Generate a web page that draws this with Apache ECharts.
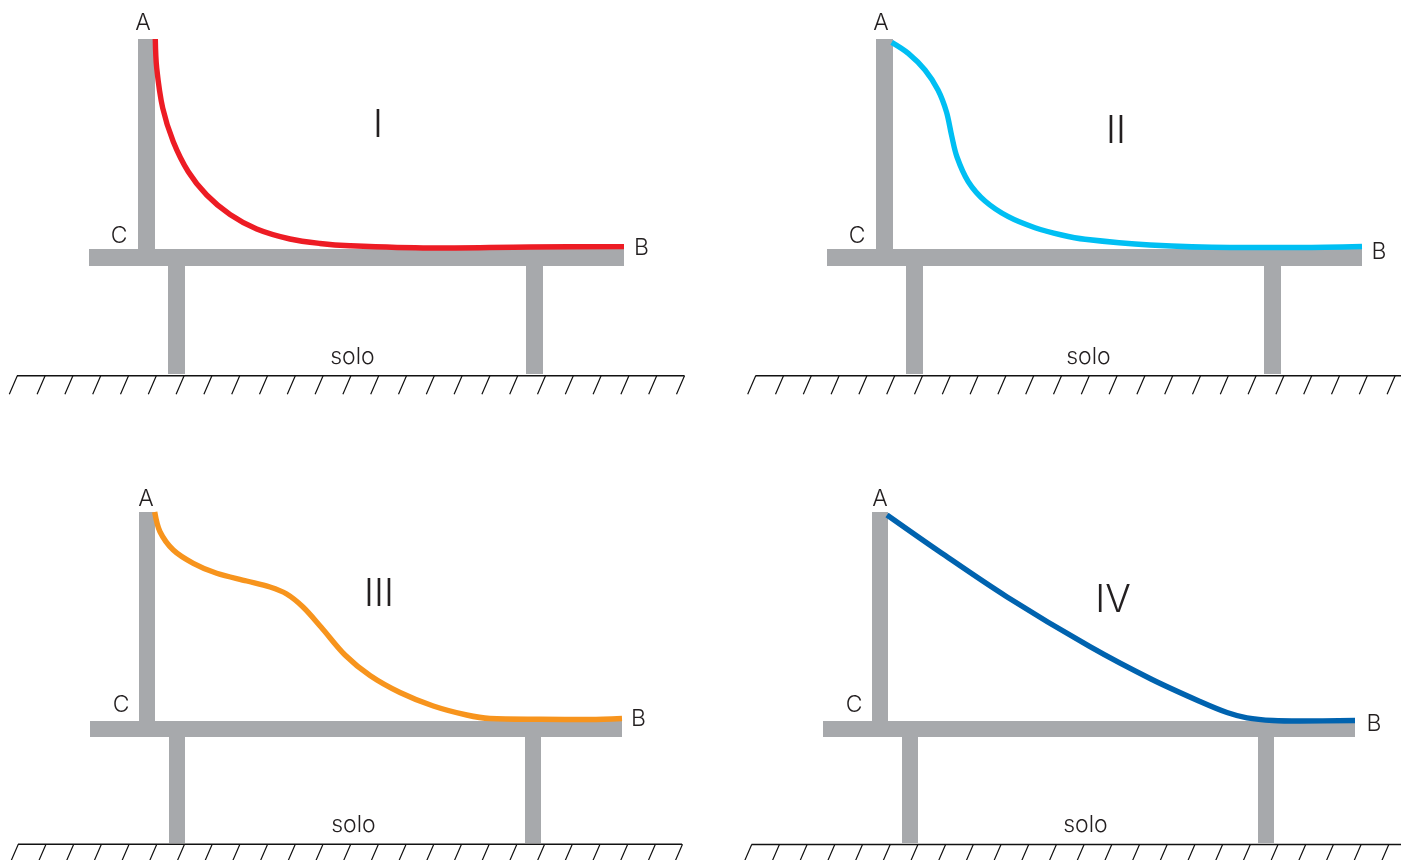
<!DOCTYPE html>
<html><head><meta charset="utf-8">
<style>html,body{margin:0;padding:0;background:#fff}#c{width:1401px;height:860px}</style>
<script src="https://cdn.jsdelivr.net/npm/echarts@6/dist/echarts.min.js"></script>
</head><body><div id="c"></div>
<script>
// curves (x / y in picture units, y downward)
const curveI = [[155.3,39],[156.7,68],[162.7,108],[173.3,141.7],[188.3,171.7],[206.7,195],[230,214.5],[256.7,229],[290,239],[320,243.5],[350,245.8],[430,248],[530,247],[624,246.6]];
const curveII = [[891.7,42.3],[908.3,53.3],[925,70],[938,90],[946.5,112],[951.5,135],[957,157],[968.3,181.7],[985,201],[1008.3,216.7],[1035,227.7],[1061.7,235],[1085,239.3],[1150,245],[1230,247.5],[1300,247.5],[1362,246.5]];
const curveIII = [[154.7,512],[160,531.7],[173.3,550],[193.3,563.3],[216.7,573.3],[246.7,581],[270,587],[286.7,594],[303,607],[321,627],[345,655],[370,675.5],[400,692.5],[433.3,706],[466.7,715],[490,718.5],[540,719.3],[590,719.5],[622,718.5]];
const curveIV = [[887,515],[940,552],[1006.7,596.7],[1090,646.7],[1151,679],[1200,701.5],[1227,712.5],[1247,717.8],[1273,720.5],[1300,721],[1355,720.5]];
// gray frames: post [x, yTop, yBottom], deck [xLeft, xRight, y], legs [x, x, yTop, yBottom]
const postsI = [146.5,39,249], deckI = [89,624,257.5], legsI = [176.5,534.5,266,374];
const postsII = [884.5,39,249], deckII = [827,1362,257.5], legsII = [914.5,1272.5,266,374];
const postsIII = [147,512,721], deckIII = [90,622,729], legsIII = [177,533,737,843];
const postsIV = [880,512,721], deckIV = [823,1355,729], legsIV = [910,1266,737,843];
// ground lines [xStart, xEnd, y] and the tops of their hatch ticks
const groundI = [17,684.5,375.7], groundII = [755.5,1401,375.7], groundIII = [18,682,844.2], groundIV = [751.5,1401,844.5];
const hatchI = [17.3,45.1,72.9,100.7,128.5,156.3,184.1,211.9,239.7,267.5,295.3,323.1,350.9,378.7,406.5,434.3,462.1,489.9,517.7,545.5,573.3,601.1,628.9,656.7,684.5];
const hatchII = [755.7,783.5,811.3,839.1,866.9,894.7,922.5,950.3,978.1,1005.9,1033.7,1061.5,1089.3,1117.1,1144.9,1172.7,1200.5,1228.3,1256.1,1283.9,1311.7,1339.5,1367.3,1395.1];
const hatchIII = [18.3,46,73.7,101.4,129.1,156.8,184.5,212.2,239.9,267.6,295.3,323,350.7,378.4,406.1,433.8,461.5,489.2,516.9,544.6,572.3,600,627.7,655.4,682.5];
const hatchIV = [751.7,779.4,807.1,834.8,862.5,890.2,917.9,945.6,973.3,1001,1028.7,1056.4,1084.1,1111.8,1139.5,1167.2,1194.9,1222.6,1250.3,1278,1305.7,1333.4,1361.1,1388.8];
// text labels: [x, y, text]
const labelsSmall = [
 [143,23,'A'],[119,236.5,'C'],[641.5,248,'B'],[352.5,357,'solo'],
 [881,23,'A'],[857,236.5,'C'],[1379,252,'B'],[1088.5,357,'solo'],
 [146,499,'A'],[121,705.5,'C'],[638.5,719,'B'],[353.5,825,'solo'],
 [880,499,'A'],[854,705.5,'C'],[1374,724,'B'],[1085.5,825,'solo']];
const labelsBig = [[378,126,'I'],[1116,132,'II'],[379,595,'III'],[1113,601,'IV']];

const GRAY='#a7a9ac', INK='#231f20';
const seg=(a,w,c,z,name)=>({type:'line',name,data:a,symbol:'none',showSymbol:false,silent:true,animation:false,z,
  lineStyle:{width:w,color:c,cap:'butt',join:'round'},connectNulls:false});
function frame(p,d,l,w,n){return [
  seg([[p[0],p[1]],[p[0],p[2]]],w,GRAY,1,n+' post'),
  seg([[d[0],d[2]],[d[1],d[2]]],w,GRAY,1,n+' deck'),
  seg([[l[0],l[2]],[l[0],l[3]]],w,GRAY,1,n+' leg 1'),
  seg([[l[1],l[2]],[l[1],l[3]]],w,GRAY,1,n+' leg 2')];}
function ground(g,h,n){
  const pts=[];
  h.forEach(x=>{pts.push([x,g[2]],[x-8,g[2]+18.5],[x,null]);});
  return [seg([[g[0],g[2]],[g[1],g[2]]],1.4,'#111',2,n+' ground'),seg(pts,1.2,'#111',2,n+' hatch')];}
function curve(a,c,n){const s=seg(a,5.4,c,5,n);s.smooth=0.33;return s;}
function texts(a,size,n){return {type:'scatter',name:n,data:a.map(d=>({value:[d[0],d[1]],label:{formatter:d[2]}})),symbolSize:0,silent:true,animation:false,z:6,
  itemStyle:{opacity:1},
  label:{show:true,opacity:1,position:'inside',align:'center',verticalAlign:'middle',fontFamily:'Inter,"Liberation Sans",Arial,sans-serif',fontSize:size,fontWeight:300,color:INK}};}

const chart=echarts.init(document.getElementById('c'),null,{renderer:'canvas'});
chart.setOption({
  animation:false,backgroundColor:'#fff',
  grid:{left:0,right:0,top:0,bottom:0},
  xAxis:{type:'value',min:0,max:1401,show:false},
  yAxis:{type:'value',min:0,max:860,inverse:true,show:false},
  tooltip:{show:false},
  series:[
   ...frame(postsI,deckI,legsI,17,'I'),...frame(postsII,deckII,legsII,17,'II'),
   ...frame(postsIII,deckIII,legsIII,16,'III'),...frame(postsIV,deckIV,legsIV,16,'IV'),
   ...ground(groundI,hatchI,'I'),...ground(groundII,hatchII,'II'),
   ...ground(groundIII,hatchIII,'III'),...ground(groundIV,hatchIV,'IV'),
   curve(curveI,'#ed1c24','I'),curve(curveII,'#00bff3','II'),
   curve(curveIII,'#f7941d','III'),curve(curveIV,'#0063af','IV'),
   texts(labelsSmall,23,'small labels'),texts(labelsBig,38,'panel numerals')
  ]
});
</script></body></html>
